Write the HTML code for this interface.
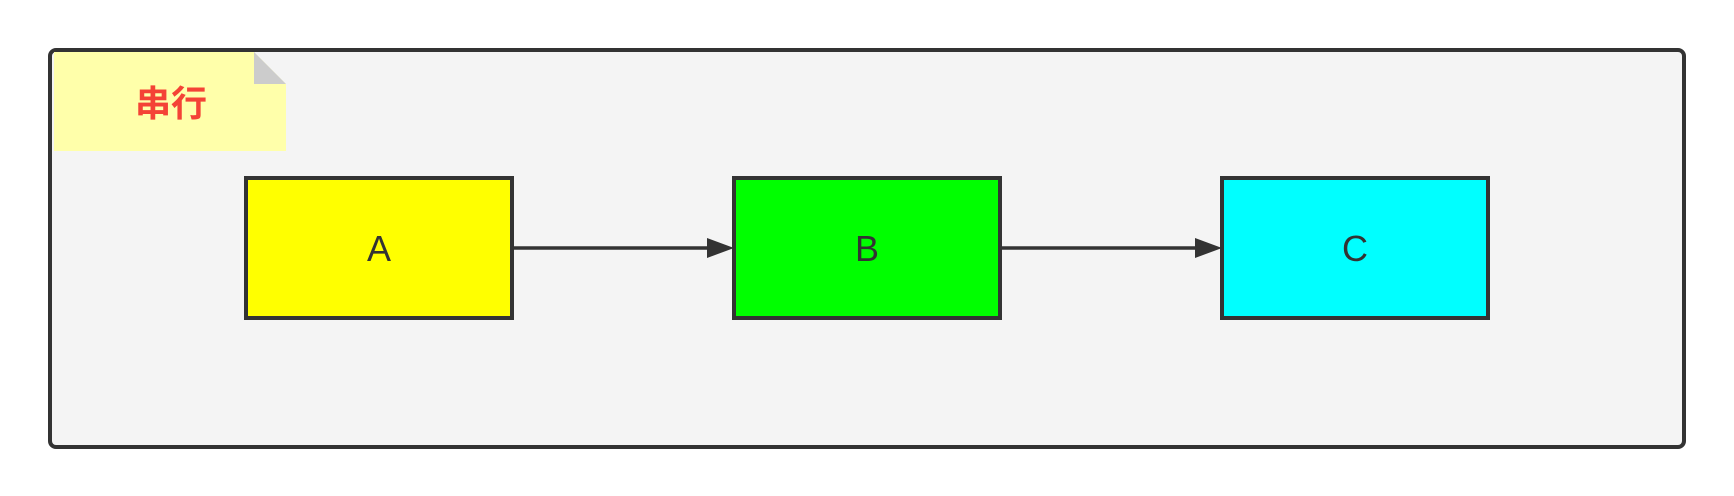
<!DOCTYPE html>
<html><head><meta charset="utf-8"><style>
html,body{margin:0;padding:0;background:#fff;width:1734px;height:496px;overflow:hidden}
</style></head><body>
<svg width="1734" height="496" viewBox="0 0 1734 496" xmlns="http://www.w3.org/2000/svg">
<rect x="50" y="50" width="1634" height="397" rx="6" ry="6" fill="#f4f4f4" stroke="#333" stroke-width="4"/>
<polygon points="54,52 254,52 286,84 286,151 54,151" fill="#ffffaa"/>
<polygon points="254,52 286,84 254,84" fill="#cccccc"/>
<text x="171" y="116" font-family="Liberation Sans, Noto Sans CJK SC, sans-serif" font-size="36" font-weight="bold" fill="#f44336" text-anchor="middle">串行</text>
<rect x="246" y="178" width="266" height="140" fill="#ffff00" stroke="#333" stroke-width="4"/>
<rect x="734" y="178" width="266" height="140" fill="#00ff00" stroke="#333" stroke-width="4"/>
<rect x="1222" y="178" width="266" height="140" fill="#00ffff" stroke="#333" stroke-width="4"/>
<g font-family="Liberation Sans, sans-serif" font-size="36" fill="#333" text-anchor="middle">
<text x="379" y="261">A</text>
<text x="867" y="261">B</text>
<text x="1355" y="261">C</text>
</g>
<line x1="512" y1="248" x2="710" y2="248" stroke="#333" stroke-width="3.5"/>
<polygon points="707,238 734,248 707,258" fill="#333"/>
<line x1="1000" y1="248" x2="1198" y2="248" stroke="#333" stroke-width="3.5"/>
<polygon points="1195,238 1222,248 1195,258" fill="#333"/>
</svg>
</body></html>
